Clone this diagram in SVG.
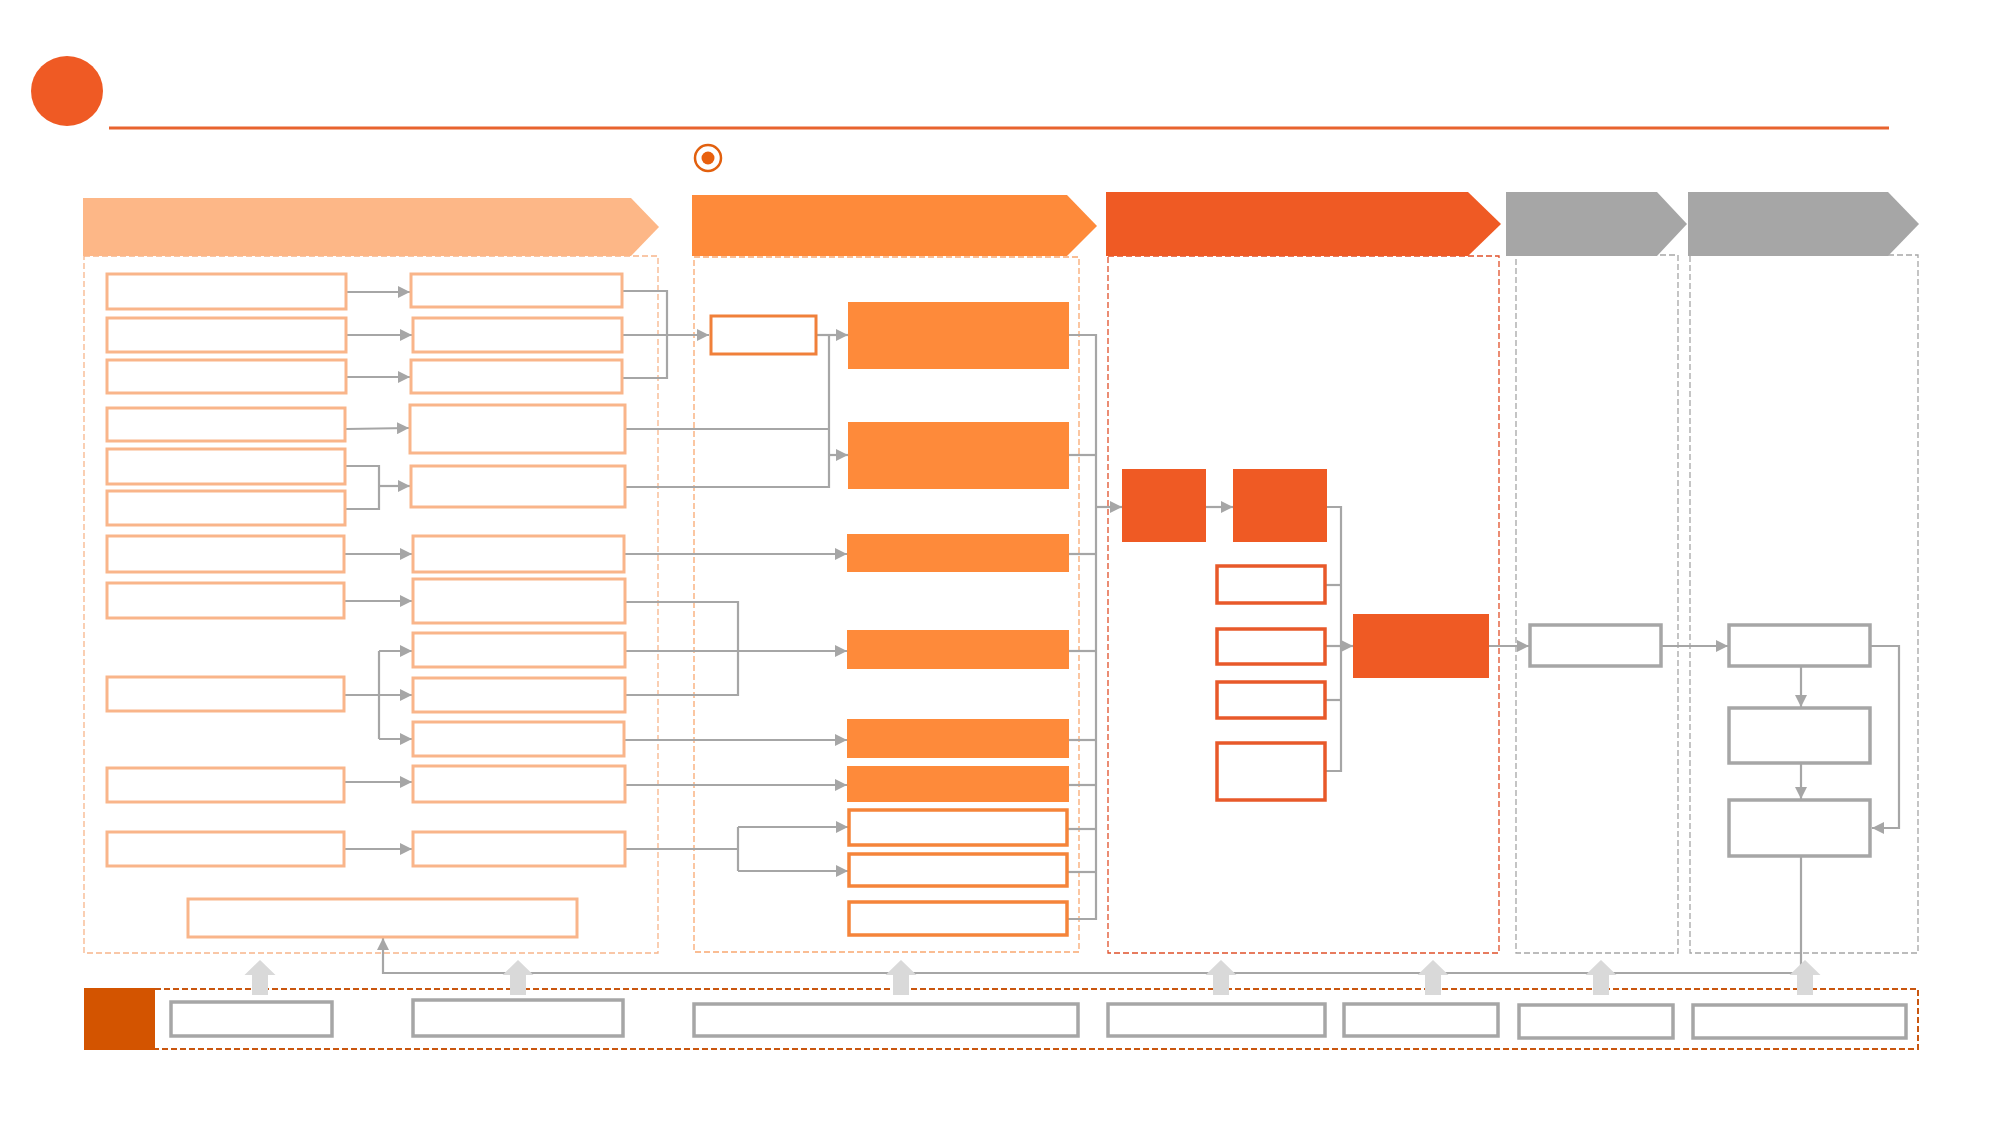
<svg xmlns="http://www.w3.org/2000/svg" width="2000" height="1125" viewBox="0 0 2000 1125">
<defs>
<marker id="ah" markerUnits="userSpaceOnUse" markerWidth="12" markerHeight="12" refX="12" refY="6" orient="auto">
<path d="M0,0 L12,6 L0,12 Z" fill="#A6A6A6"/>
</marker>
<path id="up" d="M-15.5,15 L0,0 L15.5,15 L8,15 L8,35 L-8,35 L-8,15 Z" fill="#D9D9D9"/>
</defs>
<style>
.pk{fill:#FFFFFF;stroke:#F9B58A;stroke-width:3}
.ob{fill:#FE8A3A}
.oo{fill:#FFFFFF;stroke:#F5843A;stroke-width:3.5}
.rb{fill:#EF5A24}
.ro{fill:#FFFFFF;stroke:#E8592A;stroke-width:3.5}
.gb{fill:#FFFFFF;stroke:#A6A6A6;stroke-width:3.5}
.c{fill:none;stroke:#A6A6A6;stroke-width:2.2}
.a{fill:none;stroke:#A6A6A6;stroke-width:2.2;marker-end:url(#ah)}
.cont{fill:none;stroke-width:1.3;stroke-dasharray:6 3}
</style>
<rect width="2000" height="1125" fill="#FFFFFF"/>

<g id="header">
<ellipse cx="67" cy="91" rx="36" ry="35" fill="#EF5A24"/>
<line x1="109" y1="128" x2="1889" y2="128" stroke="#E8632E" stroke-width="3"/>
<circle cx="708" cy="158" r="13" fill="#FFFFFF" stroke="#E2600E" stroke-width="2.5"/>
<circle cx="708" cy="158" r="6.5" fill="#E8600E"/>
</g>

<g id="containers">
<rect class="cont" x="84" y="256" width="574" height="697" stroke="#F8B58A"/>
<rect class="cont" x="694" y="257" width="385" height="695" stroke="#F9A870"/>
<rect class="cont" x="1108" y="256" width="391" height="697" stroke="#E0502A" stroke-width="1.8"/>
<rect class="cont" x="1516" y="255" width="162" height="698" stroke="#A6A6A6"/>
<rect class="cont" x="1690" y="255" width="228" height="698" stroke="#A6A6A6" stroke-width="2"/>
</g>

<g id="phases">
<path d="M83,198 H631 L659,227 L631,256 H83 Z" fill="#FDB787"/>
<path d="M692,195 H1067 L1097,226 L1067,256 H692 Z" fill="#FE8A3A"/>
<path d="M1106,192 H1468 L1501,224 L1468,256 H1106 Z" fill="#EF5A24"/>
<path d="M1506,192 H1657 L1687,224 L1657,256 H1506 Z" fill="#A6A6A6"/>
<path d="M1688,192 H1888 L1919,224 L1888,256 H1688 Z" fill="#A6A6A6"/>
</g>

<g id="connectors">
<line class="a" x1="346" y1="292" x2="410" y2="292"/>
<line class="a" x1="346" y1="335" x2="412" y2="335"/>
<line class="a" x1="346" y1="377" x2="410" y2="377"/>
<line class="a" x1="346" y1="429" x2="409" y2="428"/>
<polyline class="c" points="346,466 379,466 379,509 346,509"/>
<line class="a" x1="379" y1="486" x2="410" y2="486"/>
<line class="a" x1="345" y1="554" x2="412" y2="554"/>
<line class="a" x1="345" y1="601" x2="412" y2="601"/>
<polyline class="c" points="345,695 379,695"/>
<polyline class="c" points="379,651 379,739"/>
<line class="a" x1="379" y1="651" x2="412" y2="651"/>
<line class="a" x1="379" y1="695" x2="412" y2="695"/>
<line class="a" x1="379" y1="739" x2="412" y2="739"/>
<line class="a" x1="345" y1="782" x2="412" y2="782"/>
<line class="a" x1="345" y1="849" x2="412" y2="849"/>
<polyline class="c" points="622,291 667,291 667,378 622,378"/>
<line class="c" x1="622" y1="335" x2="667" y2="335"/>
<line class="a" x1="667" y1="335" x2="709" y2="335"/>
<line class="a" x1="816" y1="335" x2="848" y2="335"/>
<polyline class="c" points="625,429 829,429"/>
<polyline class="c" points="625,487 829,487 829,335"/>
<line class="a" x1="829" y1="455" x2="848" y2="455"/>
<line class="a" x1="624" y1="554" x2="847" y2="554"/>
<polyline class="c" points="625,602 738,602 738,695 625,695"/>
<line class="a" x1="625" y1="651" x2="847" y2="651"/>
<line class="a" x1="624" y1="740" x2="847" y2="740"/>
<line class="a" x1="625" y1="785" x2="847" y2="785"/>
<polyline class="c" points="625,849 738,849"/>
<polyline class="c" points="738,827 738,871"/>
<line class="a" x1="738" y1="827" x2="848" y2="827"/>
<line class="a" x1="738" y1="871" x2="848" y2="871"/>
<polyline class="c" points="1069,335 1096,335 1096,919 1068,919"/>
<line class="c" x1="1069" y1="455" x2="1096" y2="455"/>
<line class="c" x1="1069" y1="554" x2="1096" y2="554"/>
<line class="c" x1="1069" y1="651" x2="1096" y2="651"/>
<line class="c" x1="1069" y1="740" x2="1096" y2="740"/>
<line class="c" x1="1069" y1="785" x2="1096" y2="785"/>
<line class="c" x1="1068" y1="829" x2="1096" y2="829"/>
<line class="c" x1="1068" y1="872" x2="1096" y2="872"/>
<line class="a" x1="1096" y1="507" x2="1122" y2="507"/>
<line class="a" x1="1206" y1="507" x2="1233" y2="507"/>
<polyline class="c" points="1327,507 1341,507 1341,771 1326,771"/>
<line class="c" x1="1326" y1="585" x2="1341" y2="585"/>
<line class="c" x1="1326" y1="646" x2="1341" y2="646"/>
<line class="c" x1="1326" y1="700" x2="1341" y2="700"/>
<line class="a" x1="1341" y1="646" x2="1353" y2="646"/>
<line class="a" x1="1489" y1="646" x2="1529" y2="646"/>
<line class="a" x1="1662" y1="646" x2="1728" y2="646"/>
<line class="a" x1="1801" y1="667" x2="1801" y2="707"/>
<line class="a" x1="1801" y1="764" x2="1801" y2="799"/>
<polyline class="a" points="1871,646 1899,646 1899,828 1872,828"/>
<polyline class="a" points="1801,857 1801,973 383,973 383,938"/>
</g>

<g id="col1-inputs">
<rect id="L1" class="pk" x="107" y="274" width="239" height="35"/>
<rect id="L2" class="pk" x="107" y="318" width="239" height="34"/>
<rect id="L3" class="pk" x="107" y="360" width="239" height="33"/>
<rect id="L4" class="pk" x="107" y="408" width="238" height="33"/>
<rect id="L5" class="pk" x="107" y="449" width="238" height="35"/>
<rect id="L6" class="pk" x="107" y="491" width="238" height="34"/>
<rect id="L7" class="pk" x="107" y="536" width="237" height="36"/>
<rect id="L8" class="pk" x="107" y="583" width="237" height="35"/>
<rect id="L9" class="pk" x="107" y="677" width="237" height="34"/>
<rect id="L10" class="pk" x="107" y="768" width="237" height="34"/>
<rect id="L11" class="pk" x="107" y="832" width="237" height="34"/>
</g>
<g id="col1-outputs">
<rect id="R1" class="pk" x="411" y="274" width="211" height="33"/>
<rect id="R2" class="pk" x="413" y="318" width="209" height="34"/>
<rect id="R3" class="pk" x="411" y="360" width="211" height="33"/>
<rect id="R4" class="pk" x="410" y="405" width="215" height="48"/>
<rect id="R5" class="pk" x="411" y="466" width="214" height="41"/>
<rect id="R6" class="pk" x="413" y="536" width="211" height="36"/>
<rect id="R7" class="pk" x="413" y="579" width="212" height="44"/>
<rect id="R8" class="pk" x="413" y="633" width="212" height="34"/>
<rect id="R9" class="pk" x="413" y="678" width="212" height="34"/>
<rect id="R10" class="pk" x="413" y="722" width="211" height="34"/>
<rect id="R11" class="pk" x="413" y="766" width="212" height="36"/>
<rect id="R12" class="pk" x="413" y="832" width="212" height="34"/>
<rect id="R13" class="pk" x="188" y="899" width="389" height="38"/>
</g>

<g id="col2">
<rect id="S1" x="711" y="316" width="105" height="38" fill="#FFFFFF" stroke="#F0803A" stroke-width="3"/>
<rect id="B1" class="ob" x="848" y="302" width="221" height="67"/>
<rect id="B2" class="ob" x="848" y="422" width="221" height="67"/>
<rect id="B3" class="ob" x="847" y="534" width="222" height="38"/>
<rect id="B4" class="ob" x="847" y="630" width="222" height="39"/>
<rect id="B5" class="ob" x="847" y="719" width="222" height="39"/>
<rect id="B6" class="ob" x="847" y="766" width="222" height="36"/>
<rect id="B7" class="oo" x="849" y="810" width="218" height="35"/>
<rect id="B8" class="oo" x="849" y="854" width="218" height="32"/>
<rect id="B9" class="oo" x="849" y="902" width="218" height="33"/>
</g>

<g id="col3">
<rect id="C1" class="rb" x="1122" y="469" width="84" height="73"/>
<rect id="C2" class="rb" x="1233" y="469" width="94" height="73"/>
<rect id="C3" class="ro" x="1217" y="566" width="108" height="37"/>
<rect id="C4" class="ro" x="1217" y="629" width="108" height="35"/>
<rect id="C5" class="ro" x="1217" y="682" width="108" height="36"/>
<rect id="C6" class="ro" x="1217" y="743" width="108" height="57"/>
<rect id="C7" class="rb" x="1353" y="614" width="136" height="64"/>
</g>

<g id="col4">
<rect id="D1" class="gb" x="1530" y="625" width="131" height="41"/>
</g>
<g id="col5">
<rect id="E1" class="gb" x="1729" y="625" width="141" height="41"/>
<rect id="E2" class="gb" x="1729" y="708" width="141" height="55"/>
<rect id="E3" class="gb" x="1729" y="800" width="141" height="56"/>
</g>

<g id="bottom-bar">
<path d="M155,989 H1918 V1049 H155" fill="none" stroke="#C9560F" stroke-width="2" stroke-dasharray="6 3"/>
<rect x="84" y="988" width="71" height="62" fill="#D35400"/>
<rect id="G1" class="gb" x="171" y="1002" width="161" height="34"/>
<rect id="G2" class="gb" x="413" y="1000" width="210" height="36" stroke-width="4.5"/>
<rect id="G3" class="gb" x="694" y="1004" width="384" height="32"/>
<rect id="G4" class="gb" x="1108" y="1004" width="217" height="32"/>
<rect id="G5" class="gb" x="1344" y="1004" width="154" height="32"/>
<rect id="G6" class="gb" x="1519" y="1005" width="154" height="33"/>
<rect id="G7" class="gb" x="1693" y="1005" width="213" height="33"/>
</g>

<g id="support-arrows">
<use href="#up" x="260" y="960"/>
<use href="#up" x="518" y="960"/>
<use href="#up" x="901" y="960"/>
<use href="#up" x="1221" y="960"/>
<use href="#up" x="1433" y="960"/>
<use href="#up" x="1601" y="960"/>
<use href="#up" x="1805" y="960"/>
</g>
</svg>
